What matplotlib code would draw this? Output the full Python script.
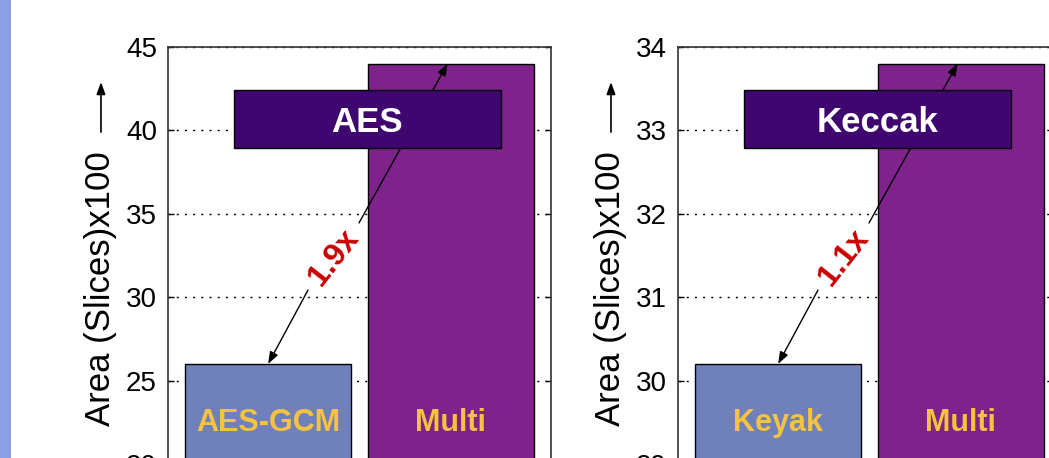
import matplotlib
matplotlib.use("Agg")
import matplotlib.pyplot as plt
from matplotlib.patches import Rectangle
import matplotlib.transforms as mtransforms

plt.rcParams['font.family'] = ['Liberation Sans', 'DejaVu Sans']

# ---- data ----
aes_title = "AES"
aes_labels = ["AES-GCM", "Multi"]
aes_values = [26.0, 44.0]
aes_ratio = "1.9x"
aes_yticks = [20, 25, 30, 35, 40, 45]

keccak_title = "Keccak"
keccak_labels = ["Keyak", "Multi"]
keccak_values = [30.2, 33.8]
keccak_ratio = "1.1x"
keccak_yticks = [29, 30, 31, 32, 33, 34]

ylabel = "Area (Slices)x100"

# ---- style ----
bar_colors = ["#6f80bb", "#80228c"]
title_box_color = "#3f0670"
label_color = "#f5c242"
ratio_color = "#cc0000"
strip_color = "#8c9ee4"

W, H = 1049, 458
fig = plt.figure(figsize=(W / 100, H / 100), dpi=100)
fig.patch.set_facecolor("white")
fig.patches.append(Rectangle((0, 0), 11 / W, 1, transform=fig.transFigure,
                             facecolor=strip_color, edgecolor="none", zorder=0))

ax_w = 383 / W
ax_h = 417 / H
ax_b = (H - 464) / H
lefts = [168 / W, 678 / W]

panels = [
    (aes_title, aes_labels, aes_values, aes_ratio, aes_yticks),
    (keccak_title, keccak_labels, keccak_values, keccak_ratio, keccak_yticks),
]

for left, (title, labels, values, ratio, yticks) in zip(lefts, panels):
    ax = fig.add_axes([left, ax_b, ax_w, ax_h])
    pos = list(range(len(values)))
    ax.bar(pos, values, width=0.91, color=bar_colors, edgecolor="black",
           linewidth=1.0, zorder=2)
    ax.set_xlim(-0.548, 1.548)
    ax.set_ylim(yticks[0], yticks[-1])
    ax.set_yticks(yticks)
    ax.set_xticks([])
    ax.yaxis.grid(True, color="black", linewidth=1.0,
                  linestyle=(0, (1.5, 4.4)), zorder=0)
    ax.set_axisbelow(True)
    ax.tick_params(axis="y", direction="in", length=4, width=1, right=True,
                   labelsize=20, pad=8)
    for s in ax.spines.values():
        s.set_color("#333333")
        s.set_linewidth(1.2)

    # bar labels
    trans = mtransforms.blended_transform_factory(ax.transData, ax.transAxes)
    for p, lab in zip(pos, labels):
        ax.text(p, 0.078, lab, transform=trans, ha="center", va="baseline",
                color=label_color, fontsize=22, fontweight="bold", zorder=5)

    # title box
    ax.add_patch(Rectangle((0.1723, 0.758), 0.8687 - 0.1723, 0.897 - 0.758,
                           transform=ax.transAxes, facecolor=title_box_color,
                           edgecolor="black", linewidth=1.0, zorder=6))
    ax.text(0.520, 0.797, title, transform=ax.transAxes, ha="center",
            va="baseline", color="white", fontsize=25, fontweight="bold",
            zorder=7)

    # ratio arrows
    astyle = dict(arrowstyle="-|>,head_length=0.6,head_width=0.22",
                  color="black", lw=1.0, mutation_scale=12,
                  shrinkA=0, shrinkB=0)
    ax.annotate("", xy=(pos[0], values[0]), xycoords="data",
                xytext=(0.3655, 0.417), textcoords="axes fraction",
                arrowprops=astyle, zorder=4)
    ax.annotate("", xy=(pos[1] - 0.018, values[1]), xycoords="data",
                xytext=(0.4987, 0.578), textcoords="axes fraction",
                arrowprops=astyle, zorder=4)
    ax.text(0.432, 0.495, ratio, transform=ax.transAxes, rotation=52,
            ha="center", va="center", color=ratio_color, fontsize=23,
            fontweight="bold", zorder=5)

    # y label with arrow
    ax.text(-0.1514, 0.4197, ylabel, transform=ax.transAxes, rotation=90,
            rotation_mode="anchor", ha="center", va="baseline",
            fontsize=25, color="black")
    ax.annotate("", xy=(-0.175, 0.916), xycoords="axes fraction",
                xytext=(-0.175, 0.796), textcoords="axes fraction",
                arrowprops=dict(arrowstyle="-|>,head_length=0.6,head_width=0.22",
                                color="black", lw=1.2, mutation_scale=12,
                                shrinkA=0, shrinkB=0),
                annotation_clip=False)

fig.savefig("out.png", dpi=100, facecolor=fig.get_facecolor())
